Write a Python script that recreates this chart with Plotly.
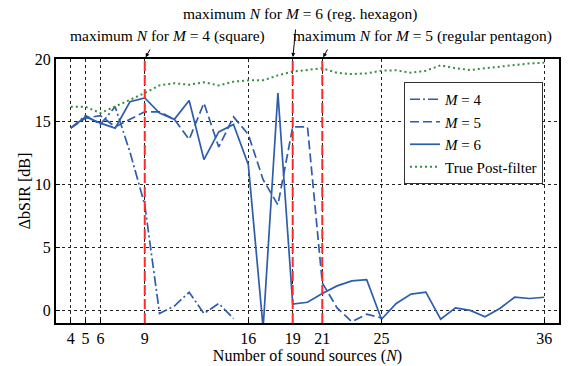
import plotly.graph_objects as go

N_all = list(range(4, 37))
N_m4 = list(range(4, 16))
N_m5 = list(range(4, 26))
N_m6 = list(range(4, 37))

sir_m4 = [14.5, 15.5, 14.8, 16.2, 12.6, 8.4, -0.25, 0.35, 1.45, -0.25, 0.55, -0.65]
sir_m5 = [14.5, 15.3, 15.5, 14.6, 15.2, 15.8, 15.8, 15.2, 13.6, 16.5, 13.0, 15.4,
          14.0, 10.4, 8.4, 14.6, 14.6, 2.2, 0.2, -0.9, -0.3, -0.6]
sir_m6 = [14.5, 15.4, 14.9, 14.5, 16.6, 16.9, 15.7, 15.2, 16.7, 12.0, 14.2, 14.8,
          11.6, -1.4, 17.3, 0.5, 0.65, 1.35, 1.95, 2.35, 2.45, -0.7, 0.55, 1.3,
          1.45, -0.7, 0.2, 0.0, -0.5, 0.15, 1.05, 0.95, 1.05]
sir_true = [16.2, 16.2, 15.7, 16.2, 16.75, 17.3, 17.9, 18.07, 17.95, 18.15, 17.9, 18.2,
            18.3, 18.3, 18.7, 19.0, 19.13, 19.26, 18.9, 18.8, 18.86, 19.07, 19.1, 18.9,
            19.07, 19.5, 19.26, 19.13, 19.26, 19.4, 19.5, 19.65, 19.7]

x_ticks = [4, 5, 6, 9, 16, 19, 21, 25, 36]
y_ticks = [0, 5, 10, 15, 20]
max_N = [9, 19, 21]
max_labels = ["maximum <i>N</i> for <i>M</i> = 4 (square)",
              "maximum <i>N</i> for <i>M</i> = 6 (reg. hexagon)",
              "maximum <i>N</i> for <i>M</i> = 5 (regular pentagon)"]

BLUE = "#2d5dab"
GREEN = "#3a8c3f"
RED = "#ff2a2a"
FONT = "Liberation Serif"

fig = go.Figure()
fig.add_trace(go.Scatter(x=N_m4, y=sir_m4, mode="lines", name="<i>M</i> = 4",
                         line=dict(color=BLUE, width=1.7, dash="10px,3px,2px,3px")))
fig.add_trace(go.Scatter(x=N_m5, y=sir_m5, mode="lines", name="<i>M</i> = 5",
                         line=dict(color=BLUE, width=1.7, dash="9px,4px")))
fig.add_trace(go.Scatter(x=N_m6, y=sir_m6, mode="lines", name="<i>M</i> = 6",
                         line=dict(color=BLUE, width=1.7)))
fig.add_trace(go.Scatter(x=N_all, y=sir_true, mode="lines", name="True Post-filter",
                         line=dict(color=GREEN, width=2, dash="2px,3px")))

for n in max_N:
    fig.add_shape(type="line", x0=n, x1=n, y0=0, y1=1, xref="x", yref="paper",
                  line=dict(color=RED, width=2, dash="10px,4px"), layer="above")

# plot area in pixels: x 56..559, y 59..323
L, R, T, B = 56, 559, 59, 323
def px(xp):
    return (xp - L) / (R - L)
def py(yp):
    return (B - yp) / (B - T)

label_pos = [(167, 36), (300, 14), (422, 36)]
for (xp, yp), txt in zip(label_pos, max_labels):
    fig.add_annotation(x=px(xp), y=py(yp), xref="paper", yref="paper", text=txt,
                       showarrow=False, font=dict(family=FONT, size=15.5, color="black"),
                       xanchor="center", yanchor="middle")

arrow_off = [(6, -11), (3, -31), (6, -11)]
for n, (ax, ay) in zip(max_N, arrow_off):
    fig.add_annotation(x=n, y=20, xref="x", yref="y", text="", showarrow=True,
                       ax=ax, ay=ay, arrowhead=2, arrowsize=0.8, arrowwidth=1,
                       arrowcolor="black", standoff=2)

axis_common = dict(showline=True, linecolor="black", linewidth=2, mirror=True,
                   showgrid=True, gridcolor="#222", gridwidth=1, griddash="3px,3px",
                   zeroline=False, ticks="inside", ticklen=4, tickcolor="black",
                   automargin=False,
                   tickfont=dict(family=FONT, size=16, color="black"))

fig.update_xaxes(range=[3, 37], tickmode="array", tickvals=x_ticks,
                 ticktext=[str(v) for v in x_ticks], ticklabelstandoff=0,
                 title=dict(text="Number of sound sources (<i>N</i>)",
                            font=dict(family=FONT, size=16, color="black"), standoff=4),
                 **axis_common)
fig.update_yaxes(range=[-1, 20], tickmode="array", tickvals=y_ticks,
                 title=dict(text="ΔbSIR [dB]",
                            font=dict(family=FONT, size=16, color="black"), standoff=0),
                 **axis_common)

fig.update_layout(
    width=579, height=366,
    margin=dict(l=L, r=579 - R, t=T, b=366 - B),
    plot_bgcolor="white", paper_bgcolor="white",
    font=dict(family=FONT, size=16, color="black"),
    showlegend=True,
    legend=dict(x=px(404), y=py(82), xanchor="left", yanchor="top",
                bgcolor="white", bordercolor="#333", borderwidth=1,
                font=dict(family=FONT, size=15, color="black"),
                tracegroupgap=0, itemwidth=30),
)

fig.write_html("out.html")
